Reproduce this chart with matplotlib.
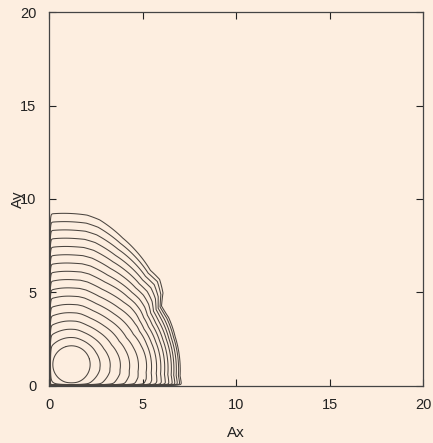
import numpy as np
import matplotlib.pyplot as plt

# peak of the distribution (data units)
peak_x, peak_y = 1.2, 1.15

# radius of outermost contour, by direction (deg, measured from peak)
theta_deg = [-180, -135, -90, -45, -11, -6, 2, 15, 26, 33, 38, 44, 50, 60, 68, 79, 84, 98, 120, 180]
r_outer = [8.1, 7.0, 6.0, 5.9, 6.0, 5.84, 5.80, 5.74, 5.77, 5.66, 6.21, 6.55, 6.57, 6.97, 7.30, 7.88, 8.03, 8.13, 8.2, 8.1]
# same outline without the dent near (6, 4.5), followed by the inner contours
theta_smooth = [-180, -135, -90, -45, -11, -6, 2, 15, 26, 50, 60, 68, 79, 84, 98, 120, 180]
r_smooth = [8.1, 7.0, 6.0, 5.9, 6.0, 5.84, 5.80, 5.74, 5.77, 6.57, 6.97, 7.30, 7.88, 8.03, 8.13, 8.2, 8.1]
r_inner = 1.0

# relative position of each contour between inner and outer one, read along +x
t_right = [0, .111, .223, .336, .439, .537, .627, .682, .738, .785, .828, .865, .902, .930, .957, .982, 1.0]
levels = np.arange(1, 18)

x = np.linspace(0, 7.6, 1521)
y = np.linspace(0, 9.8, 1961)
X, Y = np.meshgrid(x, y)
dx, dy = X - peak_x, Y - peak_y
r = np.hypot(dx, dy)
th = np.degrees(np.arctan2(dy, dx))

rs = np.interp(th, theta_smooth, r_smooth)
ro = np.interp(th, theta_deg, r_outer)
ts = np.clip((r - r_inner) / (rs - r_inner), 0, 1)
ro = rs + (ro - rs) * ts ** 5
t = (r - r_inner) / (ro - r_inner)
k_top = 1 + 16 * t
k_right = np.interp(t, t_right, levels)
k_right = np.where(t > 1, 17 + 16 * (t - 1), k_right)
w = np.where(np.abs(th) < 90, np.cos(np.radians(th)) ** 2, 0.0)
K = w * k_right + (1 - w) * k_top
K = np.where(t < 0, r / r_inner, K)
# lines pile up along both axes
K = K + 17 * (np.exp(-X / 0.025) + np.exp(-Y / 0.025))

bg = '#fdeee0'
plt.rcParams['font.family'] = ['Liberation Sans', 'DejaVu Sans']
fig = plt.figure(figsize=(4.33, 4.43), dpi=100, facecolor=bg)
ax = fig.add_axes([0.1132, 0.1287, 0.8637, 0.8442], facecolor=bg)

ax.contour(X, Y, K, levels=levels, colors='#4b4540', linewidths=0.75)

ax.set_xlim(0, 20)
ax.set_ylim(0, 20)
ax.set_xticks([0, 5, 10, 15, 20])
ax.set_yticks([0, 5, 10, 15, 20])
ax.tick_params(direction='in', length=5, width=0.8, top=True, right=True,
               labelsize=10.5, colors='#222222', pad=9)
for s in ax.spines.values():
    s.set_color('#444444')
    s.set_linewidth(0.9)

ax.set_xlabel('Ax', fontsize=11, color='#222222')
ax.set_ylabel('Ay', fontsize=11, color='#222222')
ax.xaxis.set_label_coords(0.5, -0.126)
ax.xaxis.label.set_va('center')
ax.yaxis.set_label_coords(-0.083, 0.5)
ax.yaxis.label.set_va('center')

fig.savefig('out.png', dpi=100, facecolor=bg)
